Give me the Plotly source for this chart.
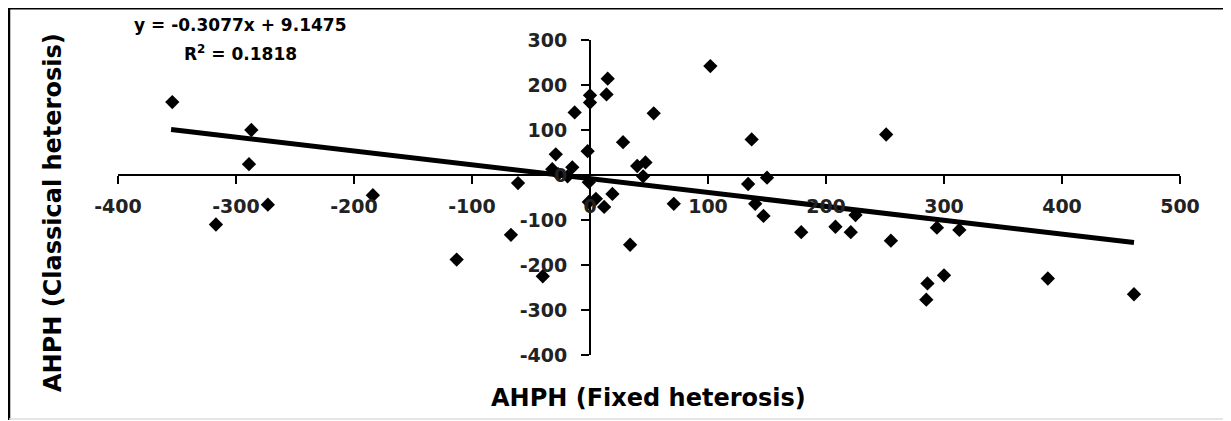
import plotly.graph_objects as go

# Scatter data
fixed_heterosis = [-354, -287, -289, -317, -273, -184, -113, -67, -40, -61,
                   -29, -32, -27, -19, -15, -13, 0, 0, -2, -1,
                   15, 14, 28, 54, 40, 47, 45, 5, 19, 12,
                   -1, 34, 71, 102, 137, 134, 150, 140, 147, 179,
                   208, 221, 225, 251, 255, 294, 313, 286, 300, 285,
                   388, 461]
classical_heterosis = [162, 100, 24, -110, -66, -45, -188, -133, -225, -18,
                       46, 13, 2, -3, 17, 139, 177, 161, 53, -16,
                       214, 179, 73, 137, 20, 28, -3, -53, -42, -71,
                       -60, -155, -64, 242, 79, -20, -6, -64, -91, -127,
                       -115, -127, -89, 90, -146, -117, -122, -241, -223, -277,
                       -230, -265]

# Trend line end points as drawn in the picture
trend_x = [-355, 461]
trend_y = [101, -150]

x_ticks = [-400, -300, -200, -100, 0, 100, 200, 300, 400, 500]
y_ticks = [-400, -300, -200, -100, 0, 100, 200, 300]

equation_text = "y = -0.3077x + 9.1475"
r2_text = "R<sup>2</sup> = 0.1818"
x_title = "AHPH (Fixed heterosis)"
y_title = "AHPH (Classical heterosis)"

# page body has an 8px margin; figure is placed at (8, 8) in the window
OFF = 8
W, H = 1231 - OFF, 421 - OFF
L, R, T, B = 118 - OFF, 51, 40 - OFF, 66
PW, PH = W - L - R, H - T - B


def px(xp):
    return (xp - OFF - L) / PW


def py(yp):
    return (H - B - (yp - OFF)) / PH


FONT = "DejaVu Sans"

fig = go.Figure()
fig.add_trace(go.Scatter(x=trend_x, y=trend_y, mode="lines",
                         line=dict(color="black", width=5), hoverinfo="skip"))
fig.add_trace(go.Scatter(x=fixed_heterosis, y=classical_heterosis, mode="markers",
                         marker=dict(symbol="diamond", size=11, color="black")))

xr = [x_ticks[0], x_ticks[-1]]
yr = [y_ticks[0], y_ticks[-1]]

fig.update_layout(
    width=W, height=H,
    margin=dict(l=L, r=R, t=T, b=B),
    paper_bgcolor="white", plot_bgcolor="white",
    showlegend=False,
    xaxis=dict(range=xr, tickvals=x_ticks, ticktext=[str(v) for v in x_ticks],
               anchor="free", position=(0 - yr[0]) / (yr[1] - yr[0]),
               showline=True, linecolor="black", linewidth=2,
               ticks="outside", ticklen=8, tickwidth=2, tickcolor="black",
               showgrid=False, zeroline=False, ticklabelstandoff=6,
               tickfont=dict(family=FONT, size=19, color="#222", weight="bold")),
    yaxis=dict(range=yr, tickvals=y_ticks, ticktext=[str(v) for v in y_ticks],
               anchor="free", position=(0 - xr[0]) / (xr[1] - xr[0]),
               showline=True, linecolor="black", linewidth=2,
               ticks="outside", ticklen=8, tickwidth=2, tickcolor="black",
               showgrid=False, zeroline=False, ticklabelstandoff=10,
               tickfont=dict(family=FONT, size=19, color="#222", weight="bold")),
    annotations=[
        dict(text=equation_text, x=px(240), y=py(25), xref="paper", yref="paper",
             showarrow=False, xanchor="center", yanchor="middle",
             font=dict(family=FONT, size=17, color="black", weight="bold")),
        dict(text=r2_text, x=px(240), y=py(53), xref="paper", yref="paper",
             showarrow=False, xanchor="center", yanchor="middle",
             font=dict(family=FONT, size=17, color="black", weight="bold")),
        dict(text=x_title, x=px(648), y=py(398), xref="paper", yref="paper",
             showarrow=False, xanchor="center", yanchor="middle",
             font=dict(family=FONT, size=24, color="black", weight="bold")),
        dict(text=y_title, x=px(53), y=py(213), xref="paper", yref="paper",
             showarrow=False, xanchor="center", yanchor="middle", textangle=-90,
             font=dict(family=FONT, size=24, color="black", weight="bold")),
    ],
    shapes=[
        dict(type="line", xref="paper", yref="paper", x0=px(9), x1=px(1229), y0=py(8), y1=py(8),
             line=dict(color="black", width=3)),
        dict(type="line", xref="paper", yref="paper", x0=px(9), x1=px(9), y0=py(8), y1=py(420),
             line=dict(color="black", width=2.5)),
        dict(type="line", xref="paper", yref="paper", x0=px(1229), x1=px(1229), y0=py(8), y1=py(420),
             line=dict(color="#bbbbbb", width=1.5)),
        dict(type="line", xref="paper", yref="paper", x0=px(9), x1=px(1229), y0=py(419), y1=py(419),
             line=dict(color="#dddddd", width=1.5)),
    ],
)

fig.write_html("out.html")
